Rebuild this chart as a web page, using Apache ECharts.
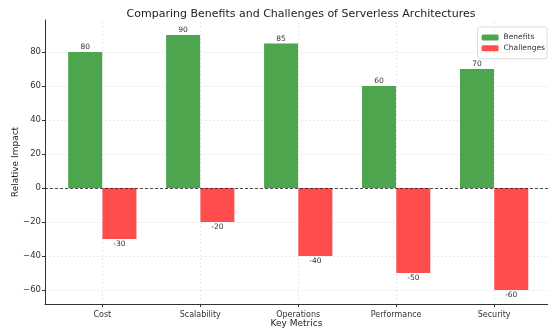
<!DOCTYPE html>
<html>
<head>
    <script src="https://cdn.jsdelivr.net/npm/echarts@6/dist/echarts.min.js"></script>
    <style>
        html, body { margin: 0; padding: 0; background: #fff; }
        #chart { width: 548px; height: 328px; }
    </style>
</head>
<body>
    <div id="chart"></div>
    <script>
    const categories = ['Cost', 'Scalability', 'Operations', 'Performance', 'Security'];
    const benefits = [80, 90, 85, 60, 70];
    const challenges = [-30, -20, -40, -50, -60];
    const yTicks = [-60, -40, -20, 0, 20, 40, 60, 80];

    const barW = 0.35;  // bar width in category units
    const idx = categories.map((c, i) => i);

    const font = 'DejaVu Sans';
    const gridLine = { type: [2, 2], color: '#e4e4e4', width: 0.8 };
    const chart = echarts.init(document.getElementById('chart'));

    chart.setOption({
        animation: false,
        textStyle: { fontFamily: font },
        title: {
            text: 'Comparing Benefits and Challenges of Serverless Architectures',
            left: 296, top: -2, textAlign: 'center',
            textStyle: { fontFamily: font, fontSize: 11, fontWeight: 'normal', color: '#222' }
        },
        legend: {
            orient: 'vertical', right: 1, top: 27,
            itemWidth: 17, itemHeight: 6, itemGap: -4,
            padding: [3, 2, 3, 4],
            borderColor: '#ddd', borderWidth: 1, borderRadius: 2,
            textStyle: { fontFamily: font, fontSize: 7.5, lineHeight: 9, color: '#333' },
            data: ['Benefits', 'Challenges']
        },
        grid: { left: 45, right: 0, top: 20, bottom: 24, outerBoundsMode: 'none' },
        xAxis: {
            type: 'value',
            min: -0.585, max: 4.55,
            name: 'Key Metrics', nameLocation: 'middle', nameGap: 11, nameMoveOverlap: false,
            nameTextStyle: { fontFamily: font, fontSize: 9, color: '#222' },
            axisLine: { show: true, onZero: false, lineStyle: { color: '#333', width: 1 } },
            axisTick: { show: true, length: 3, customValues: idx, lineStyle: { color: '#333' } },
            axisLabel: {
                customValues: idx, fontSize: 8, color: '#333', margin: 3,
                formatter: v => categories[Math.round(v)]
            },
            splitLine: { show: false }
        },
        yAxis: {
            type: 'value',
            min: -68.3, max: 98.8,
            name: 'Relative Impact', nameLocation: 'middle', nameGap: 20, nameMoveOverlap: false,
            nameTextStyle: { fontFamily: font, fontSize: 9, color: '#222' },
            axisLine: { show: true, onZero: false, lineStyle: { color: '#333', width: 1 } },
            axisTick: { show: true, length: 3, customValues: yTicks, lineStyle: { color: '#333' } },
            axisLabel: {
                customValues: yTicks, fontSize: 8.5, color: '#333', margin: 4,
                formatter: v => v < 0 ? '\u2212' + Math.abs(v) : String(v)
            },
            splitLine: { show: false }
        },
        series: [
            {
                // background grid lines, kept beneath the bars
                type: 'line', data: [], silent: true, z: 0,
                markLine: {
                    silent: true, symbol: 'none', label: { show: false }, z: 0,
                    data: [
                        ...yTicks.map(t => ({ yAxis: t, lineStyle: gridLine })),
                        ...idx.map(i => ({ xAxis: i, lineStyle: gridLine }))
                    ]
                }
            },
            {
                name: 'Benefits', type: 'bar',
                barWidth: 34, barGap: '-100%',
                itemStyle: { color: '#4da64d' },
                label: { show: true, position: 'top', distance: -3, fontSize: 7.5, color: '#333' },
                data: benefits.map((v, i) => [i - barW / 2, v]),
                z: 2
            },
            {
                name: 'Challenges', type: 'bar',
                barWidth: 34, barGap: '-100%',
                itemStyle: { color: '#ff4d4d' },
                label: { show: true, position: 'bottom', distance: -2, fontSize: 7.5, color: '#333' },
                data: challenges.map((v, i) => [i + barW / 2, v]),
                markLine: {
                    silent: true, symbol: 'none', label: { show: false },
                    data: [{ yAxis: 0, lineStyle: { type: [3, 2], color: '#222', width: 0.8 } }]
                },
                z: 2
            }
        ]
    });
    </script>
</body>
</html>
